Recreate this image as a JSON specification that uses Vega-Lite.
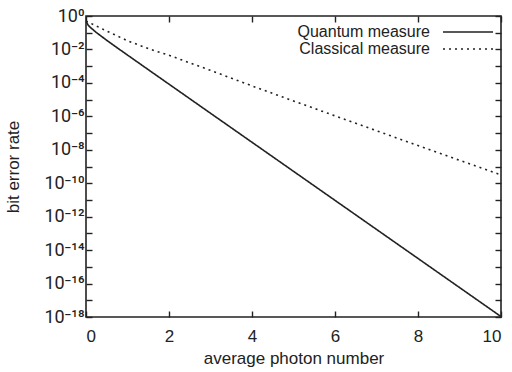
{
  "$schema": "https://vega.github.io/schema/vega-lite/v6.json",
  "width": 415,
  "height": 301,
  "autosize": {"type": "none"},
  "padding": {"left": 86, "top": 16, "right": 11, "bottom": 55},
  "background": "white",
  "config": {
    "font": "Liberation Sans",
    "view": {"stroke": "#222", "strokeWidth": 1.6},
    "axis": {"grid": false, "domain": false, "labelFont": "Liberation Sans", "titleFont": "Liberation Sans", "labelFontSize": 17, "titleFontSize": 17, "titleFontWeight": "normal", "labelColor": "#222", "titleColor": "#222", "tickColor": "#222", "tickWidth": 1.4}
  },
  "data": {"values": [
    {"n": 0, "p": 0.5, "series": "Quantum measure"},
    {"n": 0.05, "p": 0.287, "series": "Quantum measure"},
    {"n": 0.1, "p": 0.213, "series": "Quantum measure"},
    {"n": 0.25, "p": 0.1025, "series": "Quantum measure"},
    {"n": 0.5, "p": 0.0351, "series": "Quantum measure"},
    {"n": 0.75, "p": 0.0126, "series": "Quantum measure"},
    {"n": 1, "p": 0.00462, "series": "Quantum measure"},
    {"n": 1.5, "p": 0.00062, "series": "Quantum measure"},
    {"n": 2, "p": 8.39e-5, "series": "Quantum measure"},
    {"n": 3, "p": 1.53e-6, "series": "Quantum measure"},
    {"n": 4, "p": 2.81e-8, "series": "Quantum measure"},
    {"n": 5, "p": 5.15e-10, "series": "Quantum measure"},
    {"n": 6, "p": 9.44e-12, "series": "Quantum measure"},
    {"n": 7, "p": 1.73e-13, "series": "Quantum measure"},
    {"n": 8, "p": 3.17e-15, "series": "Quantum measure"},
    {"n": 9, "p": 5.8e-17, "series": "Quantum measure"},
    {"n": 10, "p": 1.06e-18, "series": "Quantum measure"},
    {"n": 0, "p": 0.5, "series": "Classical measure"},
    {"n": 0.1, "p": 0.38, "series": "Classical measure"},
    {"n": 0.25, "p": 0.25, "series": "Classical measure"},
    {"n": 0.5, "p": 0.126, "series": "Classical measure"},
    {"n": 1, "p": 0.033, "series": "Classical measure"},
    {"n": 1.5, "p": 0.0112, "series": "Classical measure"},
    {"n": 2, "p": 0.00447, "series": "Classical measure"},
    {"n": 2.5, "p": 0.00158, "series": "Classical measure"},
    {"n": 3, "p": 0.00056, "series": "Classical measure"},
    {"n": 4, "p": 6.6e-5, "series": "Classical measure"},
    {"n": 5, "p": 8.3e-6, "series": "Classical measure"},
    {"n": 6, "p": 1.07e-6, "series": "Classical measure"},
    {"n": 7, "p": 1.38e-7, "series": "Classical measure"},
    {"n": 8, "p": 1.78e-8, "series": "Classical measure"},
    {"n": 9, "p": 2.34e-9, "series": "Classical measure"},
    {"n": 10, "p": 3.16e-10, "series": "Classical measure"}
  ]},
  "layer": [
    {
      "mark": {"type": "line", "color": "#222", "strokeWidth": 1.6, "clip": true},
      "encoding": {
        "x": {"field": "n", "type": "quantitative", "scale": {"domain": [0, 10], "nice": false},
          "axis": {"orient": "bottom", "values": [0, 2, 4, 6, 8, 10], "tickSize": -6, "labelPadding": 17, "title": "average photon number", "titlePadding": 6}},
        "y": {"field": "p", "type": "quantitative", "scale": {"type": "log", "domain": [1e-18, 1], "nice": false},
          "axis": {"orient": "left", "values": [1, 0.1, 0.01, 0.001, 0.0001, 1e-5, 1e-6, 1e-7, 1e-8, 1e-9, 1e-10, 1e-11, 1e-12, 1e-13, 1e-14, 1e-15, 1e-16, 1e-17, 1e-18],
            "tickSize": -6, "labelPadding": 8, "labelFont": "Roboto", "labelFontSize": 18, "title": "bit error rate", "titlePadding": 21,
            "labelExpr": "(round(log(datum.value)/LN10) % 2 != 0) ? '' : '10' + replace(replace(replace(replace(replace(replace(replace(replace(replace(replace(replace(toString(round(log(datum.value)/LN10)), '-', '⁻'), regexp('0','g'), '⁰'), regexp('1','g'), '¹'), regexp('2','g'), '²'), regexp('3','g'), '³'), regexp('4','g'), '⁴'), regexp('5','g'), '⁵'), regexp('6','g'), '⁶'), regexp('7','g'), '⁷'), regexp('8','g'), '⁸'), regexp('9','g'), '⁹')"}},
        "strokeDash": {"field": "series", "type": "nominal",
          "scale": {"domain": ["Quantum measure", "Classical measure"], "range": [[1, 0], [2, 4]]},
          "legend": {"title": null, "orient": "none", "legendX": 374, "legendY": 8, "padding": 0, "symbolType": "M-5,0H5", "symbolSize": 100, "symbolStrokeWidth": 1.6, "symbolStrokeColor": "#222", "labelFontSize": 16, "labelFont": "Liberation Sans", "labelColor": "#222", "labelAlign": "right", "labelOffset": -46, "rowPadding": 1}}
      }
    },
    {
      "mark": {"type": "point", "opacity": 0},
      "encoding": {
        "x": {"field": "n", "type": "quantitative", "scale": {"domain": [0, 10], "nice": false},
          "axis": {"orient": "top", "values": [0, 2, 4, 6, 8, 10], "tickSize": -6, "labels": false, "title": null}},
        "y": {"field": "p", "type": "quantitative", "scale": {"type": "log", "domain": [1e-18, 1], "nice": false},
          "axis": {"orient": "right", "values": [1, 0.1, 0.01, 0.001, 0.0001, 1e-5, 1e-6, 1e-7, 1e-8, 1e-9, 1e-10, 1e-11, 1e-12, 1e-13, 1e-14, 1e-15, 1e-16, 1e-17, 1e-18], "tickSize": -6, "labels": false, "title": null}}
      }
    }
  ],
  "resolve": {"axis": {"x": "independent", "y": "independent"}}
}
